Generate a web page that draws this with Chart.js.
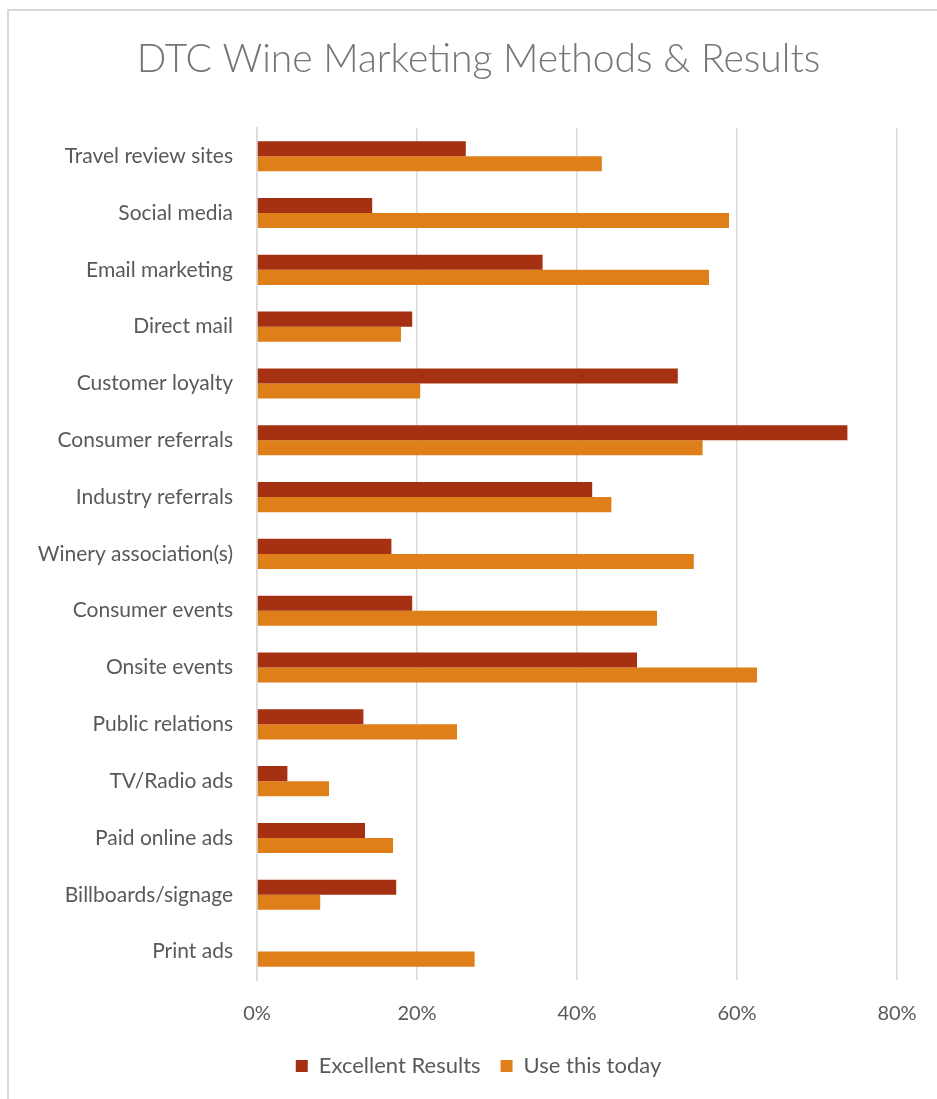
<!DOCTYPE html>
<html>
<head>
<meta charset="utf-8">
<script src="https://cdn.jsdelivr.net/npm/chart.js@4.4.0/dist/chart.umd.min.js"></script>
<style>
  html, body { margin: 0; padding: 0; background: #fff; }
  #frame {
    position: absolute; left: 7px; top: 9px; width: 960px; height: 1120px;
    border: 2px solid #d9d9d9; box-sizing: border-box;
  }
  #wrap { position: absolute; left: 0; top: 0; width: 937px; height: 1099px; }
</style>
</head>
<body>
<div id="frame"></div>
<div id="wrap"><canvas id="myChart" width="937" height="1099"></canvas></div>
<script>
// Datos (porcentajes)
const categories = [
    'Travel review sites', 'Social media', 'Email marketing', 'Direct mail',
    'Customer loyalty', 'Consumer referrals', 'Industry referrals',
    'Winery association(s)', 'Consumer events', 'Onsite events',
    'Public relations', 'TV/Radio ads', 'Paid online ads',
    'Billboards/signage', 'Print ads'
];
const excellentResults = [26.1, 14.4, 35.7, 19.4, 52.6, 73.8, 41.9, 16.8, 19.4, 47.5, 13.3, 3.8, 13.5, 17.4, 0];
const useThisToday = [43.1, 59.0, 56.5, 18.0, 20.4, 55.7, 44.3, 54.6, 50.0, 62.5, 25.0, 9.0, 17.0, 7.9, 27.2];
const xTicks = [0, 20, 40, 60, 80];

const fontFamily = "Lato, 'Open Sans', sans-serif";
const ctx = document.getElementById('myChart').getContext('2d');

const myChart = new Chart(ctx, {
    type: 'bar',
    data: {
        labels: categories,
        datasets: [{
            label: 'Excellent Results',
            data: excellentResults,
            backgroundColor: '#a63112',
            borderWidth: 0,
            categoryPercentage: 0.53,
            barPercentage: 1.0
        }, {
            label: 'Use this today',
            data: useThisToday,
            backgroundColor: '#df7f1a',
            borderWidth: 0,
            categoryPercentage: 0.53,
            barPercentage: 1.0
        }]
    },
    options: {
        indexAxis: 'y',
        responsive: false,
        animation: false,
        layout: {
            padding: { left: 28, right: 8, top: 36, bottom: 12 }
        },
        plugins: {
            title: {
                display: true,
                text: 'DTC Wine Marketing Methods & Results',
                color: '#757575',
                font: { size: 39, weight: '300', family: fontFamily, lineHeight: 1.2 },
                padding: { top: 0, bottom: 45 }
            },
            legend: {
                position: 'bottom',
                labels: {
                    color: '#595959',
                    font: { size: 22, family: fontFamily },
                    boxWidth: 12,
                    boxHeight: 12,
                    padding: 20
                }
            },
            tooltip: { enabled: false }
        },
        scales: {
            x: {
                min: 0,
                max: 80,
                afterBuildTicks: (scale) => {
                    scale.ticks = xTicks.map(v => ({ value: v }));
                },
                afterFit: (scale) => {
                    scale.height = 55;
                    scale.paddingRight = 40;
                },
                border: { display: false },
                grid: {
                    color: '#d9d9d9',
                    lineWidth: 1.5,
                    drawTicks: false
                },
                ticks: {
                    color: '#595959',
                    padding: 22,
                    font: { size: 20, family: fontFamily },
                    callback: (v) => v + '%'
                }
            },
            y: {
                afterFit: (scale) => { scale.width = 229; },
                border: { display: true, color: '#d9d9d9', width: 1.5 },
                grid: { display: false, drawTicks: false },
                ticks: {
                    color: '#595959',
                    padding: 24,
                    font: { size: 21, family: fontFamily }
                }
            }
        }
    }
});
</script>
</body>
</html>
